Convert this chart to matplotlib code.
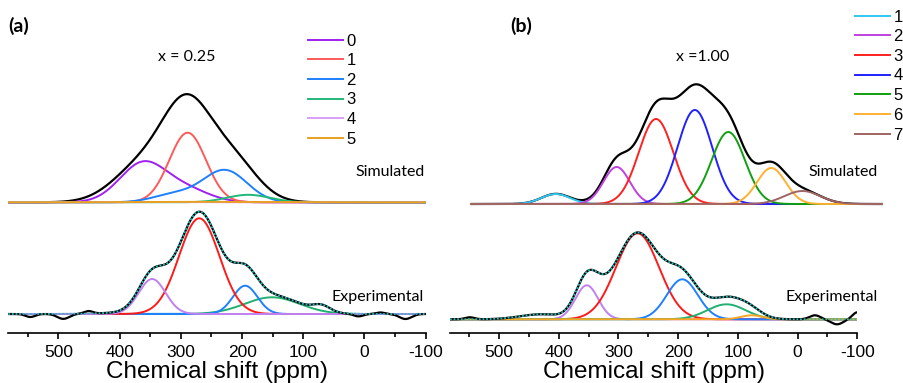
import numpy as np
import matplotlib.pyplot as plt
from matplotlib.ticker import MultipleLocator

plt.rcParams['axes.unicode_minus'] = False

W, H = 904, 383

# peaks are (centre ppm, height, width)
# (a) x = 0.25 -- simulated
sim_a_labels = ['0', '1', '2', '3', '4', '5']
sim_a_colors = ['#a020f0', '#ff5a5a', '#1e80ff', '#20b878', '#d8a0f8', '#e8a020']
sim_a_peaks = [
    [(362, 39, 38), (290, 12, 38)],
    [(289, 69.6, 30)],
    [(228, 32, 36), (310, 8, 35)],
    [(190, 7.5, 35)],
    [(350, 0.3, 40)],
    [(300, 0.5, 90)],
]
sim_a_total = [(290, 92, 40), (365, 35, 46), (215, 40, 40)]

# (a) x = 0.25 -- experimental
exp_a_colors = ['#20b070', '#1e80ff', '#ff1a1a', '#c080f0']
exp_a_peaks = [
    [(151, 16.7, 45)],
    [(195, 28.3, 20)],
    [(270, 95.7, 33)],
    [(347, 35, 22)],
]
exp_a_extra = [(270, 6, 80), (70, 6, 14)]
exp_a_noise = [(546, -3, 8), (492, -5, 10), (451, 2.5, 7), (10, -2.5, 8), (-26, 1.5, 7), (-67, -5, 10)]

# (b) x = 1.00 -- simulated
sim_b_labels = ['1', '2', '3', '4', '5', '6', '7']
sim_b_colors = ['#30c8f0', '#c040e0', '#ff2020', '#2020ff', '#10a010', '#ffb030', '#a06464']
sim_b_peaks = [
    [(405, 10, 24)],
    [(303, 37, 22)],
    [(237, 85, 29)],
    [(172, 94, 29)],
    [(116, 72, 28)],
    [(44, 36, 24)],
    [(-8, 13, 30)],
]
sim_b_extra = [(205, 10, 70)]

# (b) x = 1.00 -- experimental
exp_b_colors = ['#c080f0', '#ff1a1a', '#1e80ff', '#20b070', '#f5a623']
exp_b_peaks = [
    [(353, 34, 19)],
    [(268, 86, 36)],
    [(193, 40, 26)],
    [(119, 15, 32)],
    [(77, 4, 18)],
]
exp_b_extra = [(336, 10, 25), (430, 5, 35), (110, 7, 30)]
exp_b_noise = [(549, 2, 8), (-29, 4, 9), (-66, -5, 10), (-100, 7, 8)]

xticks = [500, 400, 300, 200, 100, 0, -100]


def gauss_sum(ppm, peaks):
    y = np.zeros_like(ppm)
    for c, h, s in peaks:
        y += h * np.exp(-(ppm - c) ** 2 / (2 * s * s))
    return y


AXIS_Y = 332.7  # pixel row of the x axis line
LW = 1.4

fig = plt.figure(figsize=(W / 100, H / 100), dpi=100)
ax_a = fig.add_axes([8.3 / W, (H - AXIS_Y) / H, (425.7 - 8.3) / W, AXIS_Y / H])
ax_b = fig.add_axes([450 / W, (H - AXIS_Y) / H, (857.3 - 450) / W, AXIS_Y / H])

for ax in (ax_a, ax_b):
    ax.set_xlim(582, -100)
    ax.set_ylim(0, AXIS_Y)
    for s in ['top', 'left', 'right']:
        ax.spines[s].set_visible(False)
    ax.spines['bottom'].set_linewidth(1.2)
    ax.set_yticks([])
    ax.set_xticks(xticks)
    ax.xaxis.set_minor_locator(MultipleLocator(50))
    ax.tick_params(axis='x', which='major', direction='out', length=4, width=1.2,
                   labelsize=12.5, pad=4.5)
    ax.tick_params(axis='x', which='minor', direction='out', length=3, width=1.2)
    for lab in ax.get_xticklabels():
        lab.set_family('Liberation Sans')
    ax.set_xlabel('Chemical shift (ppm)', fontsize=17.5, family='Liberation Sans', labelpad=1)
    ax.patch.set_visible(False)

# ---- (a) simulated
ppm = np.linspace(582, -100, 1500)
off = AXIS_Y - 202.3
ax_a.plot(ppm, off + gauss_sum(ppm, sim_a_total), color='black', lw=1.6)
for lab, col, pk in zip(sim_a_labels, sim_a_colors, sim_a_peaks):
    ax_a.plot(ppm, off + gauss_sum(ppm, pk), color=col, lw=LW, label=lab)

# ---- (a) experimental
off = AXIS_Y - 314
fit = sum(gauss_sum(ppm, pk) for pk in exp_a_peaks) + gauss_sum(ppm, exp_a_extra)
for col, pk in zip(exp_a_colors, exp_a_peaks):
    ax_a.plot(ppm, off + gauss_sum(ppm, pk), color=col, lw=LW)
ax_a.plot(ppm, off + fit + gauss_sum(ppm, exp_a_noise), color='black', lw=1.6)
ax_a.plot(ppm, off + fit, color='#1fc0c0', lw=1.3, ls=(0, (1, 1)))

# ---- (b) simulated (drawn slightly past the axis end, as in the original)
ppm_s = np.linspace(546, -141, 1500)
off = AXIS_Y - 204
total = sum(gauss_sum(ppm_s, pk) for pk in sim_b_peaks) + gauss_sum(ppm_s, sim_b_extra)
ax_b.plot(ppm_s, off + total, color='black', lw=1.6, clip_on=False)
for lab, col, pk in zip(sim_b_labels, sim_b_colors, sim_b_peaks):
    ax_b.plot(ppm_s, off + gauss_sum(ppm_s, pk), color=col, lw=LW, label=lab, clip_on=False)

# ---- (b) experimental
off = AXIS_Y - 319.3
fit = sum(gauss_sum(ppm, pk) for pk in exp_b_peaks) + gauss_sum(ppm, exp_b_extra)
for col, pk in zip(exp_b_colors, exp_b_peaks):
    ax_b.plot(ppm, off + gauss_sum(ppm, pk), color=col, lw=LW)
ax_b.plot(ppm, off + fit + gauss_sum(ppm, exp_b_noise), color='black', lw=1.6)
ax_b.plot(ppm, off + fit, color='#1fc0c0', lw=1.3, ls=(0, (1, 1)))

# legends
leg_kw = dict(frameon=False, handlelength=2.1, handletextpad=0.2,
              labelspacing=0.28, borderpad=0, borderaxespad=0, loc='upper left',
              prop={'family': 'Liberation Sans', 'size': 12})
ax_a.legend(bbox_to_anchor=(308 / W, 1 - 33.5 / H), bbox_transform=fig.transFigure, **leg_kw)
ax_b.legend(bbox_to_anchor=(855 / W, 1 - 9.5 / H), bbox_transform=fig.transFigure, **leg_kw)


def ftext(x, y, s, **kw):
    fig.text(x / W, 1 - y / H, s, va='center', **kw)


ftext(8, 26, '(a)', fontsize=14, fontweight='bold', family='Lato')
ftext(510, 26, '(b)', fontsize=14, fontweight='bold', family='Lato')
ftext(187, 57, 'x = 0.25', fontsize=11.5, family='Lato', ha='center')
ftext(703, 57, 'x =1.00', fontsize=11.5, family='Lato', ha='center')
ftext(425, 172, 'Simulated', fontsize=11.5, family='Lato', ha='right')
ftext(878, 172, 'Simulated', fontsize=11.5, family='Lato', ha='right')
ftext(424, 297, 'Experimental', fontsize=11.5, family='Lato', ha='right')
ftext(878, 297, 'Experimental', fontsize=11.5, family='Lato', ha='right')

fig.savefig('out.png', dpi=100)
